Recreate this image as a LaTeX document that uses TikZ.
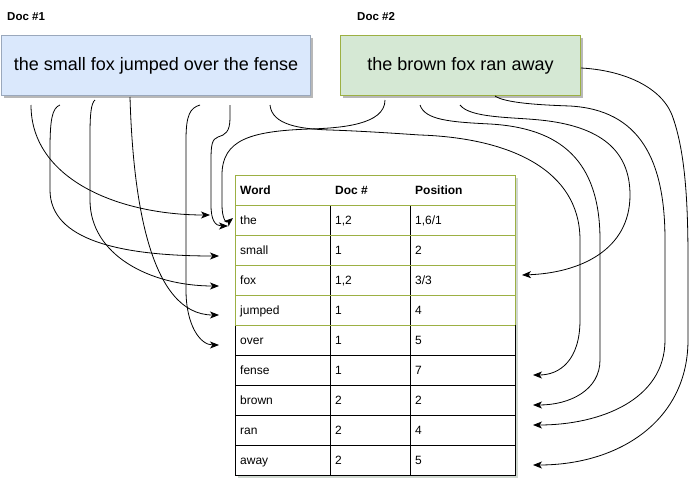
\documentclass[tikz,border=0pt]{standalone}
\usepackage{fontspec}
\setmainfont{Liberation Sans}
\usetikzlibrary{arrows.meta,calc}
\definecolor{bluefill}{HTML}{DAE8FC}
\definecolor{blueline}{HTML}{9AA8BC}
\definecolor{greenfill}{HTML}{D5E8D4}
\definecolor{greenline}{HTML}{9CB043}
\definecolor{shadowc}{HTML}{B8B8B8}
\definecolor{tshadow}{HTML}{D0D8D0}
\begin{document}
\begin{tikzpicture}[x=1pt,y=-1pt,
  docbox/.style={draw, line width=1pt, inner sep=0pt, anchor=north west,
    font=\fontsize{18}{20}\selectfont},
  cell/.style={anchor=base west, inner sep=0pt, font=\fontsize{12}{14}\selectfont},
  headcell/.style={anchor=base west, inner sep=0pt, font=\fontsize{12}{14}\selectfont\bfseries},
  doclabel/.style={anchor=west, inner sep=0pt, font=\fontsize{11.5}{13}\selectfont\bfseries},
  link/.style={line width=0.8pt, -{Stealth[length=9pt,width=7pt,inset=2.5pt]}},
  grid/.style={line width=1pt}
]
\useasboundingbox (0,0) rectangle (691,479);

% labels
\node[doclabel] (lab1) at (7,17) {Doc \#1};
\node[doclabel] (lab2) at (357,17) {Doc \#2};

% document boxes with shadows
\fill[shadowc] (4,38) rectangle (313,98);
\fill[shadowc] (343,38) rectangle (583,98);
\node[docbox, fill=bluefill, draw=blueline, minimum width=309pt, minimum height=60pt] (doc1) at (1,35) {the small fox jumped over the fense};
\node[docbox, fill=greenfill, draw=greenline, minimum width=240pt, minimum height=60pt] (doc2) at (340,35) {the brown fox ran away};

% table
\fill[tshadow] (238,178) rectangle (518,478);
\fill[white] (235,175) rectangle (515,475);
\draw[grid] (235,325) -- (235,475) -- (515,475) -- (515,325);
\foreach \yy in {355,385,415,445} \draw[grid] (235,\yy) -- (515,\yy);
\draw[grid] (330,205) -- (330,475);
\draw[grid] (410,205) -- (410,475);
\draw[grid, greenline] (235,325) -- (235,175) -- (515,175) -- (515,325);
\foreach \yy in {205,235,265,295,325} \draw[grid, greenline] (235,\yy) -- (515,\yy);

\node[headcell] (hw) at (240,194.5) {Word};
\node[headcell] (hd) at (335,194.5) {Doc \#};
\node[headcell] (hp) at (415,194.5) {Position};

\node[cell] (w1) at (240,224.5) {the};    \node[cell] (d1) at (335,224.5) {1,2}; \node[cell] (p1) at (415,224.5) {1,6/1};
\node[cell] (w2) at (240,254.5) {small};  \node[cell] (d2) at (335,254.5) {1};   \node[cell] (p2) at (415,254.5) {2};
\node[cell] (w3) at (240,284.5) {fox};    \node[cell] (d3) at (335,284.5) {1,2}; \node[cell] (p3) at (415,284.5) {3/3};
\node[cell] (w4) at (240,314.5) {jumped}; \node[cell] (d4) at (335,314.5) {1};   \node[cell] (p4) at (415,314.5) {4};
\node[cell] (w5) at (240,344.5) {over};   \node[cell] (d5) at (335,344.5) {1};   \node[cell] (p5) at (415,344.5) {5};
\node[cell] (w6) at (240,374.5) {fense};  \node[cell] (d6) at (335,374.5) {1};   \node[cell] (p6) at (415,374.5) {7};
\node[cell] (w7) at (240,404.5) {brown};  \node[cell] (d7) at (335,404.5) {2};   \node[cell] (p7) at (415,404.5) {2};
\node[cell] (w8) at (240,434.5) {ran};    \node[cell] (d8) at (335,434.5) {2};   \node[cell] (p8) at (415,434.5) {4};
\node[cell] (w9) at (240,464.5) {away};   \node[cell] (d9) at (335,464.5) {2};   \node[cell] (p9) at (415,464.5) {5};

% connector end points
\coordinate (sA) at (31,105);   \coordinate (eA) at (210,215);
\coordinate (sB) at (60,105);   \coordinate (eB) at (219,256);
\coordinate (sC) at (95,100);   \coordinate (eC) at (219,286);
\coordinate (sD) at (130,97);   \coordinate (eD) at (219,315);
\coordinate (sE) at (200,105);  \coordinate (eE) at (219,345);
\coordinate (sF) at (230,105);  \coordinate (eF) at (228,226);
\coordinate (sG) at (270,105);  \coordinate (eG) at (533,375);
\coordinate (tA) at (385,100);  \coordinate (fA) at (233,218);
\coordinate (tB) at (420,105);  \coordinate (fB) at (533,405);
\coordinate (tC) at (460,105);  \coordinate (fC) at (522,275);
\coordinate (tD) at (495,96);   \coordinate (fD) at (533,425);
\coordinate (tE) at (581,68);   \coordinate (fE) at (533,465);

% doc #1 connectors
\draw[link] (sA) .. controls (31,180) and (120,215) .. (eA);
\draw[link] (sB) .. controls (52,108) and (50,120) .. (50,150) -- (50,190)
  .. controls (50,240) and (120,256) .. (eB);
\draw[link] (sC) .. controls (91,103) and (90,115) .. (90,135) -- (90,200)
  .. controls (90,255) and (150,286) .. (eC);
\draw[link] (sD) .. controls (133,200) and (150,315) .. (eD);
\draw[link] (sE) .. controls (190,108) and (186,115) .. (186,140) -- (186,290)
  .. controls (186,325) and (200,345) .. (eE);
\draw[link] (sF) -- (230,118) .. controls (230,132) and (225,135) .. (218,137)
  .. controls (212,139) and (211,145) .. (211,160) -- (211,205)
  .. controls (211,220) and (215,226) .. (eF);
\draw[link] (sG) .. controls (272,125) and (300,129) .. (330,130)
  .. controls (360,131) and (390,133) .. (420,135)
  .. controls (510,138) and (580,170) .. (580,240) -- (580,320)
  .. controls (580,360) and (560,375) .. (eG);

% doc #2 connectors
\draw[link] (tA) .. controls (385,125) and (340,128) .. (310,129)
  .. controls (250,131) and (222,140) .. (222,175) -- (222,205)
  .. controls (222,218) and (226,224) .. (fA);
\draw[link] (tB) .. controls (425,120) and (450,122) .. (490,124)
  .. controls (560,128) and (600,160) .. (600,240) -- (600,360)
  .. controls (600,390) and (570,405) .. (fB);
\draw[link] (tC) .. controls (470,118) and (510,117) .. (540,120)
  .. controls (600,126) and (630,150) .. (630,195)
  .. controls (630,250) and (580,273) .. (fC);
\draw[link] (tD) .. controls (505,103) and (540,105) .. (570,106)
  .. controls (640,110) and (665,160) .. (665,240) -- (665,340)
  .. controls (665,400) and (600,425) .. (fD);
\draw[link] (tE) .. controls (620,70) and (660,85) .. (672,115)
  .. controls (685,150) and (688,200) .. (688,260) -- (688,340)
  .. controls (688,420) and (620,465) .. (fE);
\end{tikzpicture}
\end{document}
